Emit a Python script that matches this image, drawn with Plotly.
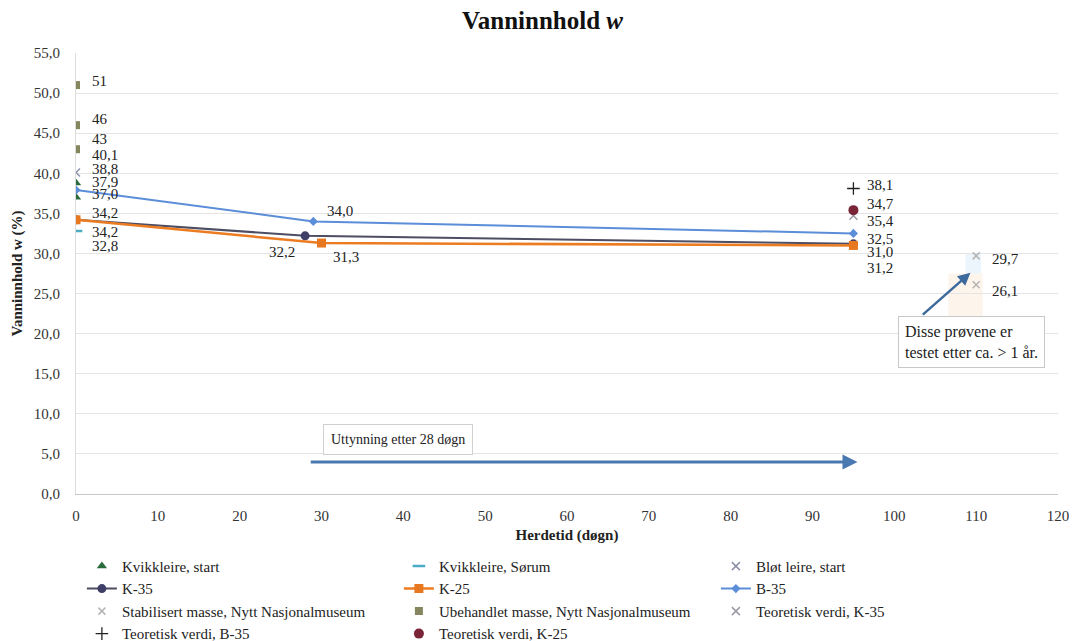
import plotly.graph_objects as go

# data
kvikk_start_x = [0, 0]
kvikk_start_y = [38.8, 37.0]

sorum_x = [0]
sorum_y = [32.8]

blot_x = [0]
blot_y = [40.1]

k35_x = [0, 28, 95]
k35_y = [34.2, 32.2, 31.2]

k25_x = [0, 30, 95]
k25_y = [34.2, 31.3, 31.0]

b35_x = [0, 29, 95]
b35_y = [37.9, 34.0, 32.5]

stab_x = [110, 110]
stab_y = [29.7, 26.1]

ubeh_x = [0, 0, 0]
ubeh_y = [51, 46, 43]

teo_k35_x = [95]
teo_k35_y = [34.7]

teo_b35_x = [95]
teo_b35_y = [38.1]

teo_k25_x = [95]
teo_k25_y = [35.4]

FONT = "Liberation Serif"

fig = go.Figure()

# name, x, y, mode, marker, line, label format, label offsets (xshift, yshift, xanchor)
series = [
    ("Kvikkleire, start", kvikk_start_x, kvikk_start_y, "markers",
     dict(symbol="triangle-up", size=9, color="#2b6a3c"), None, "{:.1f}",
     [(14, 14, "left"), (14, 3, "left")]),
    ("Kvikkleire, Sørum", sorum_x, sorum_y, "markers",
     dict(symbol="line-ew", size=9, color="#4bacc6", line=dict(width=2.5, color="#4bacc6")), None, "{:.1f}",
     [(14, -15, "left")]),
    ("Bløt leire, start", blot_x, blot_y, "markers",
     dict(symbol="x-thin", size=8, color="#8b90a8", line=dict(width=1.5, color="#8b90a8")), None, "{:.1f}",
     [(14, 17, "left")]),
    ("K-35", k35_x, k35_y, "lines+markers",
     dict(symbol="circle", size=9, color="#3e3e66"), dict(color="#4d4d63", width=2), "{:.1f}",
     [(14, -12, "left"), (-8, -16, "right"), (12, -24, "left")]),
    ("K-25", k25_x, k25_y, "lines+markers",
     dict(symbol="square", size=9, color="#e8781f"), dict(color="#ec7c22", width=2.5), "{:.1f}",
     [(14, 7, "left"), (9, -14, "left"), (12, -7, "left")]),
    ("B-35", b35_x, b35_y, "lines+markers",
     dict(symbol="diamond", size=7, color="#5b8dd9"), dict(color="#5b8dd9", width=2), "{:.1f}",
     [(14, 8, "left"), (12, 10, "left"), (12, -6, "left")]),
    ("Stabilisert masse, Nytt Nasjonalmuseum", stab_x, stab_y, "markers",
     dict(symbol="x-thin", size=7, color="#b5b5b5", line=dict(width=1.5, color="#b5b5b5")), None, "{:.1f}",
     [(14, -3, "left"), (14, -6, "left")]),
    ("Ubehandlet masse, Nytt Nasjonalmuseum", ubeh_x, ubeh_y, "markers",
     dict(symbol="square", size=8, color="#85865e"), None, "{:.0f}",
     [(14, 4, "left"), (14, 6, "left"), (14, 10, "left")]),
    ("Teoretisk verdi, K-35", teo_k35_x, teo_k35_y, "markers",
     dict(symbol="x-thin", size=8, color="#9a9aa6", line=dict(width=1.5, color="#9a9aa6")), None, "{:.1f}",
     [(12, 12, "left")]),
    ("Teoretisk verdi, B-35", teo_b35_x, teo_b35_y, "markers",
     dict(symbol="cross-thin", size=9, color="#222222", line=dict(width=1.3, color="#222222")), None, "{:.1f}",
     [(12, 4, "left")]),
    ("Teoretisk verdi, K-25", teo_k25_x, teo_k25_y, "markers",
     dict(symbol="circle", size=10, color="#7a2438"), None, "{:.1f}",
     [(12, -11, "left")]),
]

annotations = []
for name, xs, ys, mode, marker, line, fmt, offs in series:
    kw = dict(x=xs, y=ys, mode=mode, name=name, marker=marker)
    if line:
        kw["line"] = line
    fig.add_trace(go.Scatter(**kw))
    for xv, yv, (dx, dy, anc) in zip(xs, ys, offs):
        annotations.append(dict(
            x=xv, y=yv, xref="x", yref="y", text=fmt.format(yv).replace(".", ","),
            showarrow=False, xanchor=anc, yanchor="middle", xshift=dx, yshift=dy,
            font=dict(family=FONT, size=15, color="#222")))

# faint highlight behind the late samples
shapes = [
    dict(type="rect", xref="x", yref="y", x0=106.6, x1=110.8, y0=22.0, y1=27.5,
         fillcolor="#fdf4ec", line=dict(width=0), layer="below"),
    dict(type="rect", xref="x", yref="y", x0=108.7, x1=110.6, y0=27.5, y1=30.0,
         fillcolor="#ebf5fb", line=dict(width=0), layer="below"),
]

# text boxes with arrows
annotations.append(dict(
    x=95.5, y=4.0, ax=28.5, ay=4.0, xref="x", yref="y", axref="x", ayref="y",
    text="", showarrow=True, arrowhead=2, arrowsize=1, arrowwidth=3, arrowcolor="#4a78b0"))
annotations.append(dict(
    x=30.2, y=6.8, xref="x", yref="y", text="Uttynning etter 28 døgn", showarrow=False,
    xanchor="left", yanchor="middle", bgcolor="white", bordercolor="#d0d0d0", borderwidth=1,
    borderpad=7, font=dict(family=FONT, size=14, color="#222")))
annotations.append(dict(
    x=109.3, y=27.6, ax=103.3, ay=22.2, xref="x", yref="y", axref="x", ayref="y",
    text="", showarrow=True, arrowhead=2, arrowsize=1, arrowwidth=2.5, arrowcolor="#3d6a9c"))
annotations.append(dict(
    x=100.4, y=19.0, xref="x", yref="y", text="Disse prøvene er<br>testet etter ca. > 1 år.",
    showarrow=False, xanchor="left", yanchor="middle", align="left", bgcolor="white",
    bordercolor="#c8c8c8", borderwidth=1, borderpad=6, font=dict(family=FONT, size=16, color="#222")))

# the page adds an 8px body margin, so the figure is 8px smaller and shifted
fig.update_layout(
    width=1069, height=633,
    margin=dict(l=68, r=19, t=45, b=147),
    paper_bgcolor="white", plot_bgcolor="white",
    separators=", ",
    title=dict(text="<b>Vanninnhold <i>w</i></b>", x=0.5, xanchor="center",
               yref="container", y=0.981, yanchor="middle",
               font=dict(family=FONT, size=25, color="#111")),
    font=dict(family=FONT, size=15, color="#333"),
    xaxis=dict(range=[0, 120], dtick=10, showgrid=False, zeroline=False, automargin=False,
               showline=True, linecolor="#c8c8c8", linewidth=1, ticks="", ticklabelstandoff=8,
               tickfont=dict(family=FONT, size=15, color="#333"),
               title=dict(text="<b>Herdetid (døgn)</b>", font=dict(family=FONT, size=15, color="#222"), standoff=6)),
    yaxis=dict(range=[0, 55], dtick=5, tickformat=".1f", showgrid=True, gridcolor="#e4e4e4",
               zeroline=False, showline=True, linecolor="#dcdcdc", ticks="", automargin=False,
               ticklabelstandoff=12,
               tickfont=dict(family=FONT, size=15, color="#333"),
               title=dict(text="<b>Vanninnhold w (%)</b>", font=dict(family=FONT, size=15, color="#222"), standoff=7)),
    legend=dict(orientation="h", x=0.006, xanchor="left", yref="container", y=0.144, yanchor="top",
                entrywidth=272, entrywidthmode="pixels", traceorder="normal",
                font=dict(family=FONT, size=15, color="#222"), itemwidth=30, tracegroupgap=0),
    annotations=annotations,
    shapes=shapes,
    showlegend=True,
)

fig.write_html("out.html")
